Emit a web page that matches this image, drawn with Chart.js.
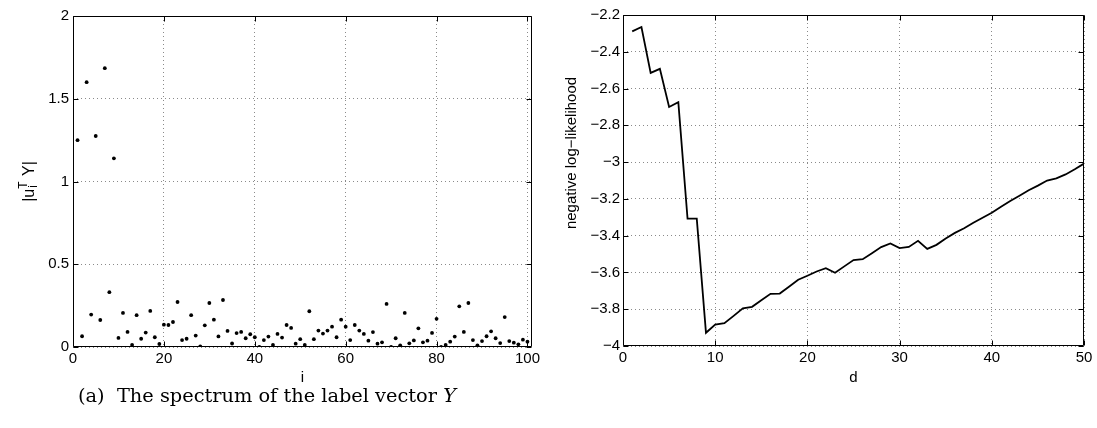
<!DOCTYPE html>
<html><head><meta charset="utf-8">
<script src="https://cdn.jsdelivr.net/npm/chart.js@4/dist/chart.umd.min.js"></script>
<style>
html,body{margin:0;padding:0;background:#fff;}
body{width:1097px;height:428px;position:relative;overflow:hidden;}
#c1{position:absolute;left:0;top:0;width:560px;height:394px;}
#c2{position:absolute;left:540px;top:0;width:557px;height:394px;}
#cap{position:absolute;left:78px;top:396px;font-family:"DejaVu Serif",serif;font-size:17px;white-space:nowrap;color:#000;line-height:1;transform:translateY(-50%);}
</style></head>
<body>
<canvas id="c1" width="560" height="394"></canvas>
<canvas id="c2" width="557" height="394"></canvas>
<div id="cap"><span id="capt">(a)&nbsp; The spectrum of the label vector <i>Y</i></span></div>
<script>
// ---- Left panel: spectrum |u_i^T Y| for i = 1..100
const spectrumIndex = [
  1,2,3,4,5,6,7,8,9,10,11,12,13,14,15,16,17,18,19,20,
  21,22,23,24,25,26,27,28,29,30,31,32,33,34,35,36,37,38,39,40,
  41,42,43,44,45,46,47,48,49,50,51,52,53,54,55,56,57,58,59,60,
  61,62,63,64,65,66,67,68,69,70,71,72,73,74,75,76,77,78,79,80,
  81,82,83,84,85,86,87,88,89,90,91,92,93,94,95,96,97,98,99,100
];
const spectrumValues = [
  1.25,0.065,1.60,0.196,1.275,0.163,1.685,0.331,1.14,0.055,
  0.206,0.091,0.012,0.192,0.05,0.087,0.218,0.059,0.018,0.135,
  0.133,0.151,0.272,0.042,0.05,0.192,0.069,0.004,0.131,0.266,
  0.165,0.064,0.284,0.097,0.021,0.084,0.091,0.053,0.077,0.059,
  0.0,0.042,0.063,0.012,0.079,0.057,0.133,0.115,0.02,0.047,
  0.012,0.216,0.047,0.099,0.081,0.099,0.123,0.059,0.165,0.123,
  0.042,0.133,0.099,0.079,0.038,0.09,0.02,0.028,0.26,0.0,
  0.053,0.01,0.206,0.022,0.04,0.113,0.028,0.038,0.085,0.17,
  0.0,0.012,0.032,0.063,0.246,0.091,0.266,0.042,0.01,0.036,
  0.065,0.095,0.053,0.024,0.181,0.036,0.026,0.016,0.044,0.032
];
const leftXTicks = [0,20,40,60,80,100];
const leftYTicks = [0,0.5,1,1.5,2];

// ---- Right panel: negative log-likelihood vs d
const dValues = [
  1,2,3,4,5,6,7,8,9,10,11,12,13,14,15,16,17,18,19,20,21,22,23,24,25,
  26,27,28,29,30,31,32,33,34,35,36,37,38,39,40,41,42,43,44,45,46,47,48,49,50
];
const nllValues = [
  -2.289,-2.265,-2.515,-2.493,-2.700,-2.674,-3.307,-3.307,-3.928,-3.883,
  -3.876,-3.836,-3.795,-3.787,-3.751,-3.716,-3.715,-3.678,-3.640,-3.618,
  -3.595,-3.577,-3.602,-3.567,-3.533,-3.528,-3.495,-3.462,-3.442,-3.468,
  -3.461,-3.428,-3.472,-3.450,-3.415,-3.385,-3.360,-3.330,-3.303,-3.275,
  -3.243,-3.212,-3.183,-3.153,-3.128,-3.100,-3.088,-3.067,-3.039,-3.008
];
const rightXTicks = [0,10,20,30,40,50];
const rightYTicks = [-4,-3.8,-3.6,-3.4,-3.2,-3,-2.8,-2.6,-2.4,-2.2];

const FONT = '"Liberation Sans", Arial, sans-serif';
const GRID = '#8a8a8a';

// fit caption width to reference (approx. 378 px) by font size
(function(){
  const s = document.getElementById('capt');
  const w = s.getBoundingClientRect().width;
  const fs = 17 * 378 / w;
  document.getElementById('cap').style.fontSize = fs.toFixed(2) + 'px';
})();

function fmt(v){
  return String(Math.round(v*10)/10).replace('-', '\u2212');
}

// Frame on all four sides + inward tick marks (MATLAB style)
const framePlugin = {
  id: 'frame',
  afterDraw(chart) {
    const {ctx, chartArea: a, scales} = chart;
    const L = Math.round(a.left)+0.5, R = Math.round(a.right)-0.5;
    const T = Math.round(a.top)+0.5, B = Math.round(a.bottom)-0.5;
    ctx.save();
    ctx.strokeStyle = '#000';
    ctx.lineWidth = 1;
    ctx.beginPath();
    ctx.rect(L, T, R-L, B-T);
    ctx.stroke();
    const tl = 5;
    ctx.beginPath();
    scales.x.ticks.forEach(t => {
      const p = Math.round(scales.x.getPixelForValue(t.value))+0.5;
      ctx.moveTo(p, B); ctx.lineTo(p, B-tl);
      ctx.moveTo(p, T); ctx.lineTo(p, T+tl);
    });
    scales.y.ticks.forEach(t => {
      const p = Math.round(scales.y.getPixelForValue(t.value))+0.5;
      ctx.moveTo(L, p); ctx.lineTo(L+tl, p);
      ctx.moveTo(R, p); ctx.lineTo(R-tl, p);
    });
    ctx.stroke();
    ctx.restore();
  }
};

// Rotated y-axis titles
const leftYTitle = {
  id: 'leftYTitle',
  afterDraw(chart) {
    const {ctx, chartArea: a} = chart;
    ctx.save();
    ctx.translate(28, (a.top + a.bottom)/2);
    ctx.rotate(-Math.PI/2);
    ctx.fillStyle = '#000';
    ctx.textBaseline = 'alphabetic';
    ctx.textAlign = 'left';
    const big = '16px ' + FONT, small = '12px ' + FONT;
    ctx.font = big; const w1 = ctx.measureText('|u').width; const w2 = ctx.measureText(' Y|').width;
    ctx.font = small; const ws = Math.max(ctx.measureText('T').width, ctx.measureText('i').width) + 1;
    let x = -(w1 + ws + w2)/2;
    ctx.font = big; ctx.fillText('|u', x, 5.5); x += w1;
    ctx.font = small; ctx.fillText('T', x, -1); ctx.fillText('i', x+1, 9); x += ws;
    ctx.font = big; ctx.fillText(' Y|', x, 5.5);
    ctx.restore();
  }
};
const rightYTitle = {
  id: 'rightYTitle',
  afterDraw(chart) {
    const {ctx} = chart;
    ctx.save();
    ctx.translate(31.5, 153);
    ctx.rotate(-Math.PI/2);
    ctx.fillStyle = '#000';
    ctx.font = '15px ' + FONT;
    ctx.textAlign = 'center';
    ctx.textBaseline = 'middle';
    ctx.fillText('negative log\u2212likelihood', 0, 0);
    ctx.restore();
  }
};

function axisCommon(extra) {
  return Object.assign({
    grid: { color: GRID, lineWidth: 1, drawTicks: false },
    border: { display: false, dash: [1,3] },
  }, extra);
}

// Left chart
new Chart(document.getElementById('c1'), {
  type: 'scatter',
  data: {
    datasets: [{
      data: spectrumIndex.map((x, k) => ({x: x, y: spectrumValues[k]})),
      backgroundColor: '#000',
      borderColor: '#000',
      pointRadius: 1.9,
      pointBorderWidth: 0,
      showLine: false
    }]
  },
  options: {
    responsive: false,
    animation: false,
    devicePixelRatio: 1,
    layout: { padding: { left: 0, right: 28, top: 16, bottom: 7 } },
    plugins: { legend: { display: false }, tooltip: { enabled: false } },
    scales: {
      x: axisCommon({
        type: 'linear', min: 0, max: 101,
        afterBuildTicks: s => { s.ticks = leftXTicks.map(v => ({value: v})); },
        afterFit: s => { s.height = 40; },
        ticks: { color: '#000', font: { family: FONT, size: 15 }, padding: 3, maxRotation: 0, autoSkip: false, callback: v => fmt(v) },
        title: { display: true, text: 'i', color: '#000', font: { family: FONT, size: 15 }, padding: 0 }
      }),
      y: axisCommon({
        type: 'linear', min: 0, max: 2,
        afterBuildTicks: s => { s.ticks = leftYTicks.map(v => ({value: v})); },
        afterFit: s => { s.width = 73; },
        ticks: { color: '#000', font: { family: FONT, size: 15 }, padding: 4, autoSkip: false, callback: v => fmt(v) }
      })
    }
  },
  plugins: [framePlugin, leftYTitle]
});

// Right chart
new Chart(document.getElementById('c2'), {
  type: 'line',
  data: {
    datasets: [{
      data: dValues.map((x, k) => ({x: x, y: nllValues[k]})),
      borderColor: '#000',
      borderWidth: 1.8,
      pointRadius: 0,
      fill: false,
      tension: 0
    }]
  },
  options: {
    responsive: false,
    animation: false,
    devicePixelRatio: 1,
    layout: { padding: { left: 0, right: 13, top: 15, bottom: 7 } },
    plugins: { legend: { display: false }, tooltip: { enabled: false } },
    scales: {
      x: axisCommon({
        type: 'linear', min: 0, max: 50,
        afterBuildTicks: s => { s.ticks = rightXTicks.map(v => ({value: v})); },
        afterFit: s => { s.height = 41; },
        ticks: { color: '#000', font: { family: FONT, size: 15 }, padding: 3, maxRotation: 0, autoSkip: false, callback: v => fmt(v) },
        title: { display: true, text: 'd', color: '#000', font: { family: FONT, size: 15 }, padding: 0 }
      }),
      y: axisCommon({
        type: 'linear', min: -4, max: -2.2,
        afterBuildTicks: s => { s.ticks = rightYTicks.map(v => ({value: v})); },
        afterFit: s => { s.width = 83; },
        ticks: { color: '#000', font: { family: FONT, size: 15 }, padding: 3, autoSkip: false, callback: v => fmt(v) }
      })
    }
  },
  plugins: [framePlugin, rightYTitle]
});
</script>
</body></html>
